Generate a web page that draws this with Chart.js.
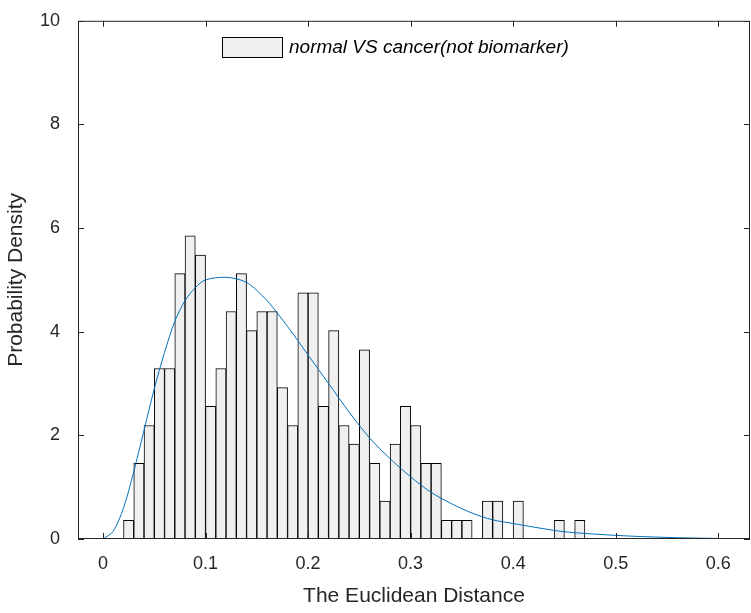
<!DOCTYPE html>
<html><head><meta charset="utf-8">
<script src="https://cdn.jsdelivr.net/npm/chart.js@4"></script>
<style>html,body{margin:0;padding:0;background:#fff}#w{width:751px;height:613px}</style>
</head><body><div id="w"><canvas id="c"></canvas></div>
<script>
const binCenters = [0.005,0.015,0.025,0.035,0.045,0.055,0.065,0.075,0.085,0.095,0.105,0.115,0.125,0.135,0.145,0.155,0.165,0.175,0.185,0.195,0.205,0.215,0.225,0.235,0.245,0.255,0.265,0.275,0.285,0.295,0.305,0.315,0.325,0.335,0.345,0.355,0.365,0.375,0.385,0.395,0.405,0.415,0.425,0.435,0.445,0.455,0.465];
const density = [0,0,0.36,1.46,2.19,3.29,3.29,5.12,5.85,5.48,2.56,3.29,4.39,5.12,4.02,4.39,4.39,2.92,2.19,4.75,4.75,2.56,4.02,2.19,1.83,3.65,1.46,0.73,1.83,2.56,2.19,1.46,1.46,0.36,0.36,0.36,0,0.73,0.73,0,0.73,0,0,0,0.36,0,0.36];
const fitX = [0,0.01,0.02,0.03,0.04,0.05,0.06,0.07,0.08,0.09,0.10,0.12,0.14,0.16,0.18,0.20,0.22,0.24,0.26,0.28,0.30,0.32,0.34,0.36,0.38,0.40,0.42,0.45,0.50,0.55,0.60];
const fitY = [0,0.15,0.6,1.3,2.1,2.9,3.6,4.2,4.6,4.85,5.0,5.05,4.95,4.6,4.1,3.55,3.0,2.45,1.95,1.55,1.2,0.9,0.68,0.5,0.37,0.3,0.23,0.14,0.07,0.03,0.01];
const xTicks = [0,0.1,0.2,0.3,0.4,0.5,0.6];
const yTicks = [0,2,4,6,8,10];
const legendLabel = 'normal VS cancer(not biomarker)';
const TXT = '#262626';
const boxPlugin = {id:'box', afterDraw(ch){const a=ch.chartArea,c=ch.ctx,xs=ch.scales.x,ys=ch.scales.y;c.save();c.strokeStyle=TXT;c.lineWidth=1;c.strokeRect(a.left+0.5,a.top+0.5,a.right-a.left-1,a.bottom-a.top-1);
 c.beginPath();
 xTicks.forEach(v=>{const p=Math.round(xs.getPixelForValue(v))+0.5;c.moveTo(p,a.bottom);c.lineTo(p,a.bottom-6);c.moveTo(p,a.top);c.lineTo(p,a.top+6);});
 yTicks.forEach(v=>{const p=Math.round(ys.getPixelForValue(v))+0.5;c.moveTo(a.left,p);c.lineTo(a.left+6,p);c.moveTo(a.right,p);c.lineTo(a.right-6,p);});
 c.moveTo(xs.getPixelForValue(0),a.bottom-0.5);c.lineTo(xs.getPixelForValue(0.47),a.bottom-0.5);
 c.stroke();
 c.fillStyle='#f0f0f0';c.fillRect(222,37,61,21);c.strokeStyle='#000';c.strokeRect(222.5,37.5,60,20);
 c.fillStyle='#000';c.font='italic 19px "Liberation Sans", Arial, sans-serif';c.textBaseline='middle';c.fillText(legendLabel,289,48);c.restore();}};
new Chart(document.getElementById('c'),{
 type:'bar',
 data:{datasets:[
  {type:'line',data:fitX.map((x,i)=>({x,y:fitY[i]})),borderColor:'#0072BD',borderWidth:1,pointRadius:0,tension:0.3,fill:false,order:0},
  {type:'bar',data:binCenters.map((x,i)=>({x,y:density[i]})),backgroundColor:'#f0f0f0',borderColor:'#000',borderWidth:1,barPercentage:1,categoryPercentage:1,order:1}
 ]},
 options:{responsive:true,maintainAspectRatio:false,animation:false,
  layout:{padding:{top:10,right:1,left:0,bottom:0}},
  plugins:{legend:{display:false},tooltip:{enabled:false}},
  scales:{
   x:{type:'linear',min:-0.0244,max:0.631,offset:false,
    afterBuildTicks(s){s.ticks=xTicks.map(v=>({value:v}));},
    afterFit(s){s.height=74;},
    grid:{display:false},border:{display:false},
    ticks:{color:TXT,font:{size:18,family:'"Liberation Sans", Arial'},padding:6,maxRotation:0,callback:v=>String(v)},
    title:{display:true,text:'The Euclidean Distance',color:TXT,font:{size:21,family:'"Liberation Sans", Arial'},padding:{top:12}}},
   y:{min:0,max:10,
    afterBuildTicks(s){s.ticks=yTicks.map(v=>({value:v}));},
    afterFit(s){s.width=78;},
    grid:{display:false},border:{display:false},
    ticks:{color:TXT,font:{size:18,family:'"Liberation Sans", Arial'},padding:10},
    title:{display:true,text:'Probability Density',color:TXT,font:{size:21,family:'"Liberation Sans", Arial'},padding:{bottom:2}}}
  }},
 plugins:[boxPlugin]
});
</script></body></html>
